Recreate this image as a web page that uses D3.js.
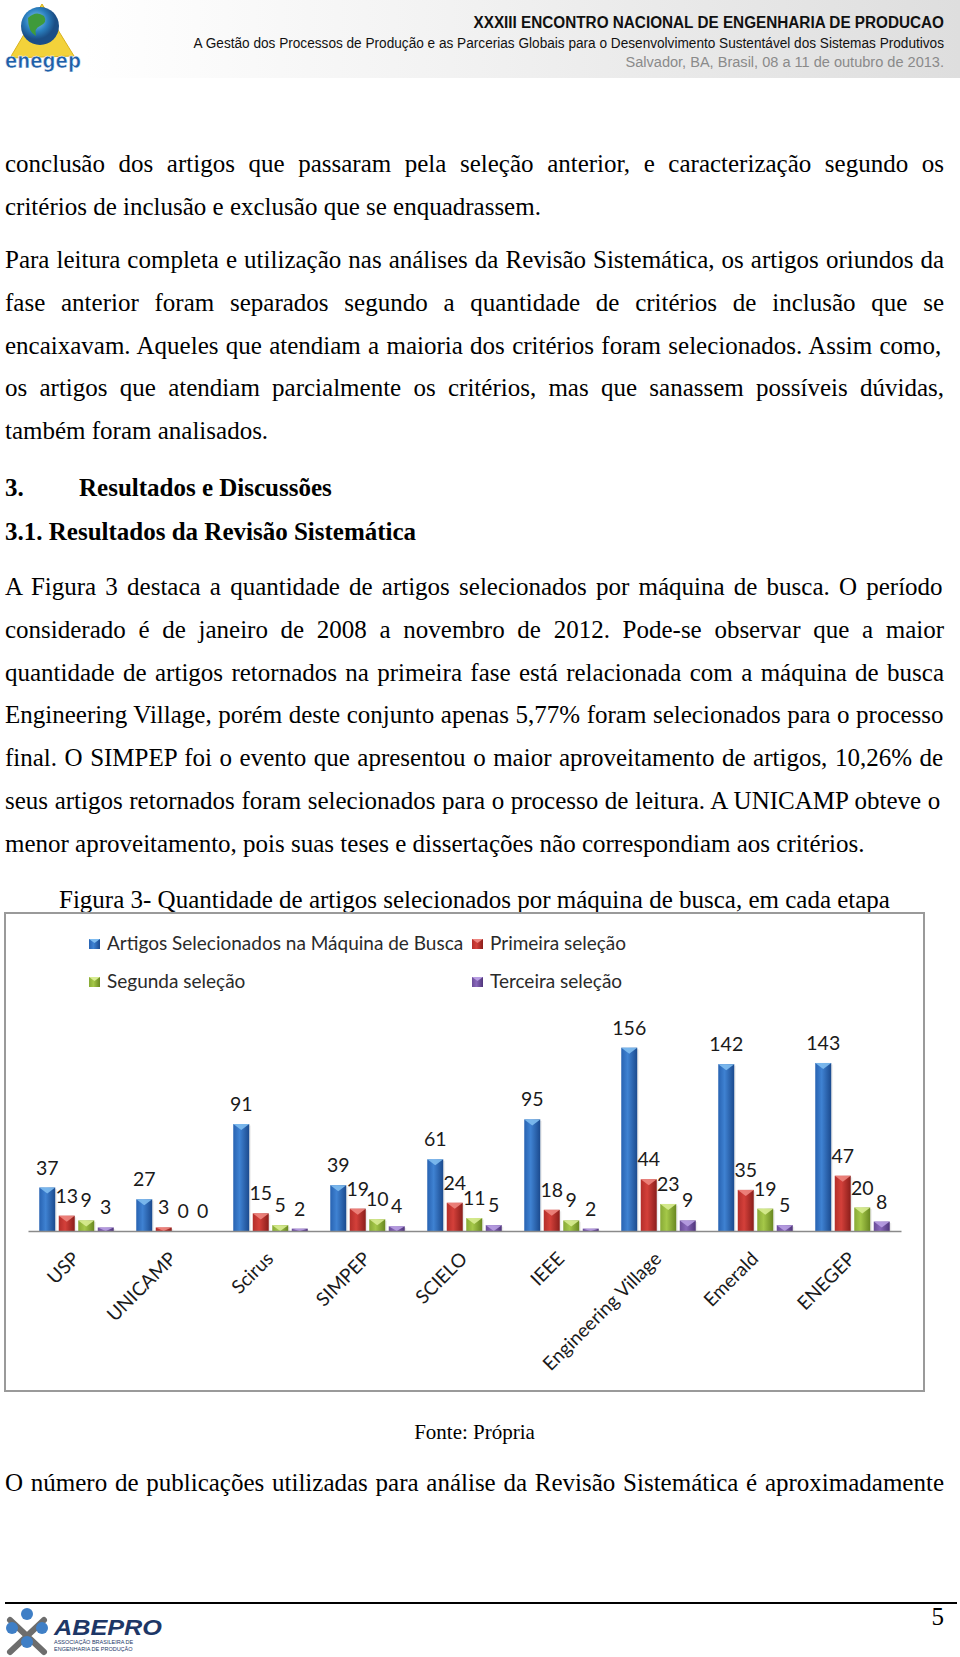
<!DOCTYPE html>
<html><head><meta charset="utf-8">
<script src="https://cdn.jsdelivr.net/npm/d3@7"></script>
<style>body{margin:0;background:#fff;} svg{display:block}</style>
</head><body>
<svg id="page" width="960" height="1657"></svg>
<script>
// ---------- chart data ----------
const categories = ["USP","UNICAMP","Scirus","SIMPEP","SCIELO","IEEE","Engineering Village","Emerald","ENEGEP"];
const seriesNames = ["Artigos Selecionados na Máquina de Busca","Primeira seleção","Segunda seleção","Terceira seleção"];
const artigos  = [37,27,91,39,61,95,156,142,143];
const primeira = [13,3,15,19,24,18,44,35,47];
const segunda  = [9,0,5,10,11,9,23,19,20];
const terceira = [3,0,2,4,5,2,9,5,8];
const seriesValues = [artigos, primeira, segunda, terceira];
const yMax = 180;

// ---------- page text ----------
const headerLines = [
  "XXXIII ENCONTRO NACIONAL DE ENGENHARIA DE PRODUCAO",
  "A Gestão dos Processos de Produção e as Parcerias Globais para o Desenvolvimento Sustentável dos Sistemas Produtivos",
  "Salvador, BA, Brasil, 08 a 11 de outubro de 2013."
];
const para1 = [
  "conclusão dos artigos que passaram pela seleção anterior, e caracterização segundo os",
  "critérios de inclusão e exclusão que se enquadrassem."
];
const para2 = [
  "Para leitura completa e utilização nas análises da Revisão Sistemática, os artigos oriundos da",
  "fase anterior foram separados segundo a quantidade de critérios de inclusão que se",
  "encaixavam. Aqueles que atendiam a maioria dos critérios foram selecionados. Assim como,",
  "os artigos que atendiam parcialmente os critérios, mas que sanassem possíveis dúvidas,",
  "também foram analisados."
];
const heading1 = ["3.", "Resultados e Discussões"];
const heading2 = "3.1. Resultados da Revisão Sistemática";
const para3 = [
  "A Figura 3 destaca a quantidade de artigos selecionados por máquina de busca. O período",
  "considerado é de janeiro de 2008 a novembro de 2012. Pode-se observar que a maior",
  "quantidade de artigos retornados na primeira fase está relacionada com a máquina de busca",
  "Engineering Village, porém deste conjunto apenas 5,77% foram selecionados para o processo",
  "final. O SIMPEP foi o evento que apresentou o maior aproveitamento de artigos, 10,26% de",
  "seus artigos retornados foram selecionados para o processo de leitura. A UNICAMP obteve o",
  "menor aproveitamento, pois suas teses e dissertações não correspondiam aos critérios."
];
const caption = "Figura 3- Quantidade de artigos selecionados por máquina de busca, em cada etapa";
const source = "Fonte: Própria";
const lastLine = "O número de publicações utilizadas para análise da Revisão Sistemática é aproximadamente";
const pageNumber = "5";

const svg = d3.select("#page");
const defs = svg.append("defs");
const serif = "'Liberation Serif','Times New Roman',serif";
const sans = "'Liberation Sans',Arial,sans-serif";
const ctx = document.createElement("canvas").getContext("2d");

const L = 5, R = 944, W = R - L;

function bodyLine(str, y, justify, opts = {}) {
  const size = opts.size || 25, weight = opts.weight || "normal";
  const t = svg.append("text").attr("x", L).attr("y", y)
    .attr("font-family", serif).attr("font-size", size).attr("font-weight", weight)
    .attr("fill", "#000").text(str);
  if (justify) {
    ctx.font = `${weight} ${size}px 'Liberation Serif'`;
    const nat = ctx.measureText(str).width;
    const n = (str.match(/ /g) || []).length;
    if (n > 0) t.style("word-spacing", ((W - nat) / n) + "px");
  }
  return t;
}

// condensed text: natural text squeezed horizontally to a target width (right-aligned at xr)
function condensed(parent, str, xr, y, width, attrs, anchor) {
  const g = parent.append("g");
  const t = g.append("text").attr("x", 0).attr("y", 0).attr("text-anchor", anchor || "end").text(str);
  Object.entries(attrs).forEach(([k, v]) => t.attr(k, v));
  const nat = t.node().getComputedTextLength();
  g.attr("transform", `translate(${xr},${y}) scale(${width / nat},1)`);
  return g;
}

// ---------- header ----------
const hg = defs.append("linearGradient").attr("id", "hdr").attr("x1", 0).attr("x2", 1).attr("y1", 0).attr("y2", 0);
hg.append("stop").attr("offset", "0%").attr("stop-color", "#ffffff");
hg.append("stop").attr("offset", "45%").attr("stop-color", "#f1f1f1");
hg.append("stop").attr("offset", "100%").attr("stop-color", "#dedede");
svg.append("rect").attr("x", 84).attr("y", 0).attr("width", 876).attr("height", 78).attr("fill", "url(#hdr)");

condensed(svg, headerLines[0], R, 28, 471,
  {"font-family": sans, "font-weight": "bold", "font-size": 17, "fill": "#111"});
condensed(svg, headerLines[1], R, 48, 751,
  {"font-family": sans, "font-size": 14.5, "fill": "#111"});
condensed(svg, headerLines[2], R, 67, 319,
  {"font-family": sans, "font-size": 14.5, "fill": "#8a8a8a"});

// enegep logo (approximation)
const logo = svg.append("g");
logo.append("path").attr("d", "M10,58 L42,4 L74,56 Z").attr("fill", "#f3d23a").attr("stroke", "#d9b21c");
const gg = defs.append("radialGradient").attr("id", "globe").attr("cx", "40%").attr("cy", "35%");
gg.append("stop").attr("offset", "0%").attr("stop-color", "#8fd0f0");
gg.append("stop").attr("offset", "60%").attr("stop-color", "#2a7fbf");
gg.append("stop").attr("offset", "100%").attr("stop-color", "#1b4e86");
logo.append("circle").attr("cx", 40).attr("cy", 26).attr("r", 19).attr("fill", "url(#globe)");
logo.append("path").attr("d", "M28,18 q8,-8 16,-2 q4,6 -4,10 q-6,2 -4,10 q-8,-4 -8,-18 Z").attr("fill", "#3f9a3a");
condensed(logo, "enegep", 5, 68, 76,
  {"font-family": "'DejaVu Sans',sans-serif", "font-weight": "bold", "font-size": 22, "fill": "#1f5fa8",
   "stroke": "#fff", "stroke-width": 0.6}, "start");

// ---------- body text ----------
const step = 42.8;
para1.forEach((s, i) => bodyLine(s, 172 + i * step, i < para1.length - 1));
para2.forEach((s, i) => bodyLine(s, 268 + i * step, i < para2.length - 1));
bodyLine(heading1[0], 496, false, {weight: "bold"});
svg.append("text").attr("x", 79).attr("y", 496).attr("font-family", serif).attr("font-size", 25)
  .attr("font-weight", "bold").text(heading1[1]);
bodyLine(heading2, 540, false, {weight: "bold"});
para3.forEach((s, i) => bodyLine(s, 595 + i * step, i < para3.length - 1));
svg.append("text").attr("x", (L + R) / 2).attr("y", 908).attr("text-anchor", "middle")
  .attr("font-family", serif).attr("font-size", 25).text(caption);
svg.append("text").attr("x", (L + R) / 2).attr("y", 1439).attr("text-anchor", "middle")
  .attr("font-family", serif).attr("font-size", 21).text(source);
bodyLine(lastLine, 1491, true);

// ---------- chart ----------
svg.append("rect").attr("x", 5).attr("y", 913).attr("width", 919).attr("height", 478)
  .attr("fill", "#fff").attr("stroke", "#9a9a9a").attr("stroke-width", 2);

const colors = [
  {a: "#2863b2", b: "#3f82d2", c: "#1b4a8e", tri: "#7fbcf0"},
  {a: "#b42e2a", b: "#d4403a", c: "#8a1e1b", tri: "#ee8680"},
  {a: "#88aa36", b: "#a5c849", c: "#688720", tri: "#d8ec92"},
  {a: "#6a4c98", b: "#8968bb", c: "#4f357a", tri: "#b89ee2"}
];
colors.forEach((c, i) => {
  const g = defs.append("linearGradient").attr("id", "bar" + i).attr("x1", 0).attr("x2", 1).attr("y1", 0).attr("y2", 0);
  g.append("stop").attr("offset", "0%").attr("stop-color", c.a);
  g.append("stop").attr("offset", "40%").attr("stop-color", c.b);
  g.append("stop").attr("offset", "100%").attr("stop-color", c.c);
});

const axisY = 1231;
const x0 = d3.scaleBand().domain(categories).range([28, 901]);
const x1 = d3.scaleBand().domain(d3.range(seriesNames.length)).range([0, x0.bandwidth()])
  .paddingInner(0.18).paddingOuter(0.577);
const y = d3.scaleLinear().domain([0, yMax]).range([axisY, axisY - 211.5]);
const chartFont = "Lato,'Open Sans',sans-serif";

const barData = [];
categories.forEach((cat, ci) => seriesValues.forEach((vals, si) => barData.push({cat, si, v: vals[ci]})));

const bars = svg.append("g");
barData.filter(d => d.v > 0).forEach(d => {
  const bx = x0(d.cat) + x1(d.si), bw = x1.bandwidth(), top = y(d.v), h = axisY - top;
  bars.append("rect").attr("x", bx + 1.5).attr("y", top + 1.5).attr("width", bw).attr("height", h - 1.5)
    .attr("fill", "#000").attr("opacity", 0.08);
  bars.append("rect").attr("x", bx).attr("y", top).attr("width", bw).attr("height", h).attr("fill", `url(#bar${d.si})`);
  const th = Math.min(6, h);
  bars.append("path").attr("d", `M${bx},${top} L${bx + bw},${top} L${bx + bw / 2},${top + th} Z`)
    .attr("fill", colors[d.si].tri).attr("opacity", 0.9);
});

const axis = d3.axisBottom(x0).tickSize(0);
const ax = svg.append("g").attr("transform", `translate(0,${axisY})`).call(axis);
ax.select(".domain").attr("stroke", "#8a8a8a").attr("stroke-width", 1.5);
ax.selectAll(".tick text").attr("y", 0).attr("dy", 0)
  .attr("transform", "translate(4,29) rotate(-45)").attr("text-anchor", "end")
  .attr("font-family", chartFont).attr("font-size", 19).attr("fill", "#1a1a1a");

svg.append("g").selectAll("text").data(barData).join("text")
  .attr("x", d => x0(d.cat) + x1(d.si) + x1.bandwidth() / 2)
  .attr("y", d => y(d.v) - 13)
  .attr("text-anchor", "middle").attr("font-family", chartFont).attr("font-size", 19.5).attr("fill", "#1a1a1a")
  .text(d => d.v);

// legend
const legendPos = [{x: 89, y: 950}, {x: 472, y: 950}, {x: 89, y: 988}, {x: 472, y: 988}];
seriesNames.forEach((name, i) => {
  const p = legendPos[i];
  svg.append("rect").attr("x", p.x).attr("y", p.y - 11).attr("width", 11).attr("height", 10).attr("fill", `url(#bar${i})`);
  svg.append("path").attr("d", `M${p.x},${p.y - 11} L${p.x + 11},${p.y - 11} L${p.x + 5.5},${p.y - 7} Z`).attr("fill", colors[i].tri);
  svg.append("text").attr("x", p.x + 18).attr("y", p.y).attr("font-family", chartFont).attr("font-size", 19)
    .attr("fill", "#2a2a2a").text(name);
});

// ---------- footer ----------
svg.append("line").attr("x1", 5).attr("x2", 957).attr("y1", 1603).attr("y2", 1603).attr("stroke", "#000").attr("stroke-width", 2);
svg.append("text").attr("x", R).attr("y", 1625).attr("text-anchor", "end").attr("font-family", serif).attr("font-size", 25).text(pageNumber);
const ab = svg.append("g");
ab.append("path").attr("d", "M10,1620 L44,1652 M44,1620 L10,1652").attr("stroke", "#6d6d6d").attr("stroke-width", 6).attr("stroke-linecap", "round");
[[27,1614],[12,1628],[42,1628],[27,1642]].forEach(c => ab.append("circle").attr("cx", c[0]).attr("cy", c[1]).attr("r", 6).attr("fill", "#3f7fc6"));
condensed(ab, "ABEPRO", 54, 1635, 108,
  {"font-family": sans, "font-weight": "bold", "font-style": "italic", "font-size": 22, "fill": "#1d3767"}, "start");
ab.append("text").attr("x", 54).attr("y", 1644).attr("font-family", sans).attr("font-size", 5.5)
  .attr("fill", "#1d3767").text("ASSOCIAÇÃO BRASILEIRA DE");
ab.append("text").attr("x", 54).attr("y", 1651).attr("font-family", sans).attr("font-size", 5.5)
  .attr("fill", "#1d3767").text("ENGENHARIA DE PRODUÇÃO");
</script>
</body></html>
